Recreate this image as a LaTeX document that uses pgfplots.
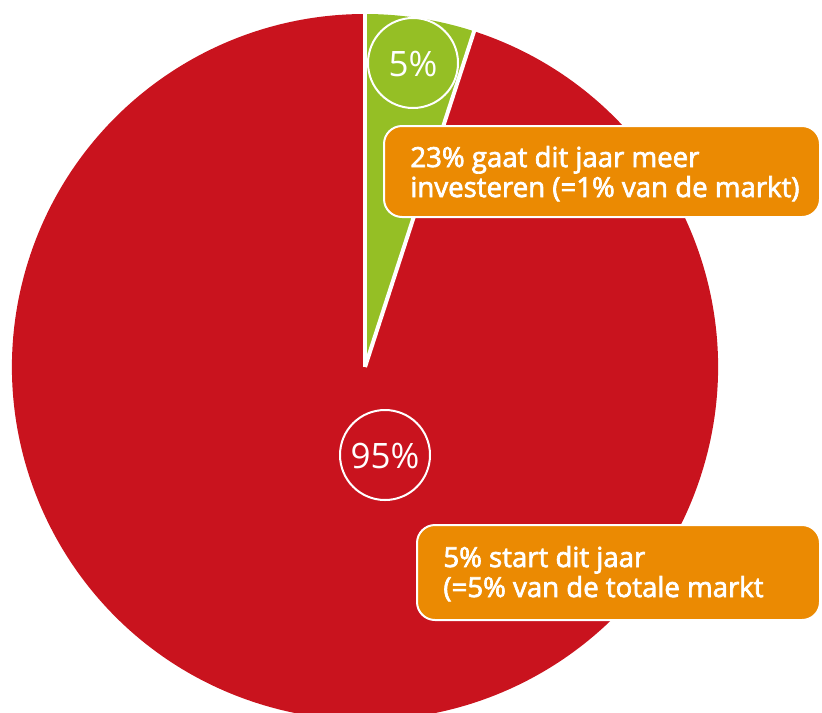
\documentclass[border=0pt]{standalone}
\usepackage{pgfplots}
\pgfplotsset{compat=1.18}
\usepackage{fontspec}
\setmainfont{Open Sans}
\newfontfamily\medfont{Open Sans}[FakeBold=2.5]

\definecolor{pred}{RGB}{201,19,30}
\definecolor{pgreen}{RGB}{149,191,37}
\definecolor{porange}{RGB}{235,138,2}

% slice values (percent)
\def\valGreen{5}
\def\valRed{95}

\begin{document}
\begin{tikzpicture}
\begin{axis}[
  width=411pt, height=356pt, scale only axis,
  xmin=0, xmax=822, ymin=0, ymax=712, y dir=reverse,
  hide axis,
]
% pie: centre (365,367) px, radius 353 px = 176.5pt
\pgfmathsetmacro{\aEnd}{90-3.6*\valGreen}
\fill[pred] (axis cs:365,367) -- ++(\aEnd:176.5pt)
  arc[start angle=\aEnd, end angle={90-360}, radius=176.5pt] -- cycle;
\fill[pgreen] (axis cs:365,367) -- ++(90:176.5pt)
  arc[start angle=90, end angle=\aEnd, radius=176.5pt] -- cycle;
\draw[white, line width=2pt] (axis cs:365,367) -- ++(90:180pt);
\draw[white, line width=2pt] (axis cs:365,367) -- ++(\aEnd:180pt);

% value circles
\draw[white, line width=1pt] (axis cs:413,63) circle[radius=22.5pt];
\node[white, font=\fontsize{17.5}{20}\selectfont] at (axis cs:413,64) {\valGreen\%};
\draw[white, line width=1pt] (axis cs:385,455) circle[radius=22.5pt];
\node[white, font=\fontsize{17.5}{20}\selectfont] at (axis cs:385,456) {\valRed\%};

% callouts
\draw[white, line width=1pt, fill=porange, rounded corners=9pt]
  (axis cs:384,126) rectangle (axis cs:820,217);
\node[white, anchor=base west, font=\medfont\fontsize{13.8}{16}\selectfont, inner sep=0pt]
  at (axis cs:410,167) {23\% gaat dit jaar meer};
\node[white, anchor=base west, font=\medfont\fontsize{13.8}{16}\selectfont, inner sep=0pt]
  at (axis cs:410,197) {investeren (=1\% van de markt)};

\draw[white, line width=1pt, fill=porange, rounded corners=9pt]
  (axis cs:417,525) rectangle (axis cs:820,620);
\node[white, anchor=base west, font=\medfont\fontsize{13.8}{16}\selectfont, inner sep=0pt]
  at (axis cs:443,567) {5\% start dit jaar};
\node[white, anchor=base west, font=\medfont\fontsize{13.8}{16}\selectfont, inner sep=0pt]
  at (axis cs:443,597) {(=5\% van de totale markt};
\end{axis}
\pgfresetboundingbox
\useasboundingbox (current axis.south west) rectangle (current axis.north east);
\end{tikzpicture}
\end{document}
